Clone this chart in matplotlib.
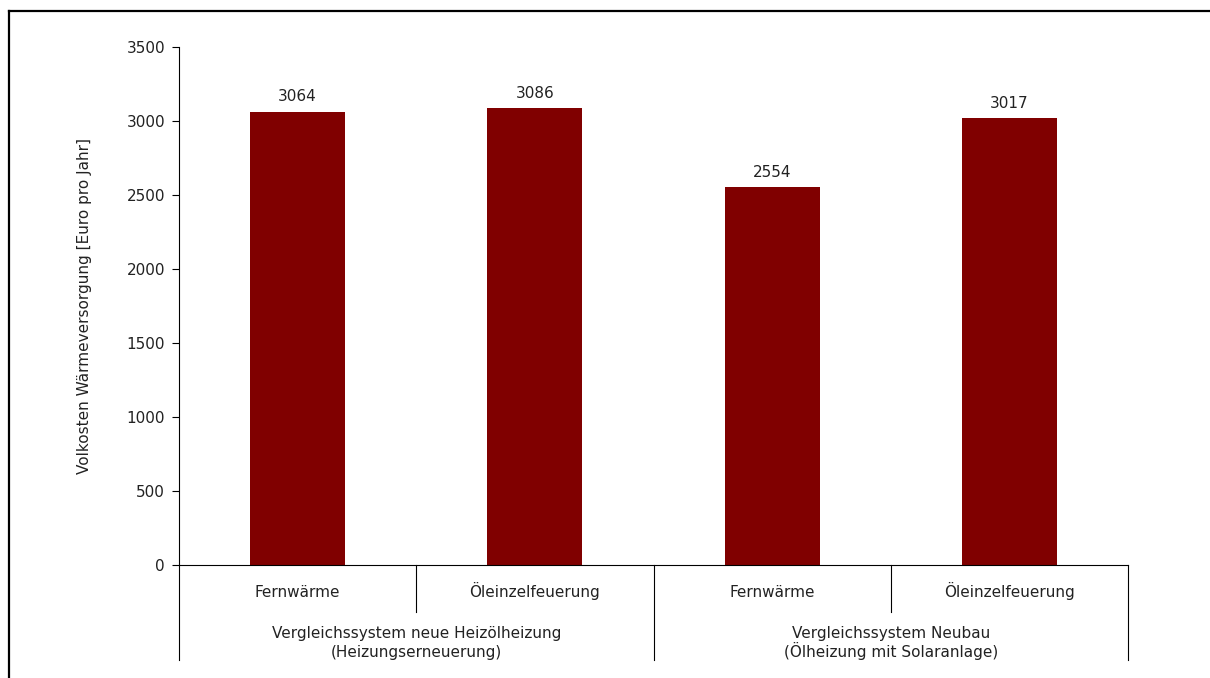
import matplotlib.pyplot as plt
from matplotlib.lines import Line2D

# データ
categories = ['Fernwärme', 'Öleinzelfeuerung', 'Fernwärme', 'Öleinzelfeuerung']
groups = ['Vergleichssystem neue Heizölheizung\n(Heizungserneuerung)',
          'Vergleichssystem Neubau\n(Ölheizung mit Solaranlage)']
values = [3064, 3086, 2554, 3017]
y_ticks = [0, 500, 1000, 1500, 2000, 2500, 3000, 3500]

W, H = 1210, 678
plt.rcParams['font.family'] = ['DejaVu Sans']
fs = 11
tc = '#222222'
fig = plt.figure(figsize=(W / 100, H / 100), dpi=100)

# 軸の位置 (ピクセル基準)
left, right, top, bottom = 179, 1128, 47, 565
ax = fig.add_axes([left / W, 1 - bottom / H, (right - left) / W, (bottom - top) / H])

x = list(range(len(categories)))
ax.bar(x, values, width=0.4, color='#800000')
for xi, v in zip(x, values):
    ax.annotate(str(v), (xi, v), xytext=(0, 7.5), textcoords='offset points',
                ha='center', va='baseline', fontsize=fs, color=tc)

ax.set_xlim(-0.5, len(categories) - 0.5)
ax.set_ylim(0, 3500)
ax.set_yticks(y_ticks)
ax.tick_params(axis='y', labelsize=fs, length=5, width=0.8, colors='black',
               labelcolor=tc, pad=5)
ax.set_xticks([])
for s in ['top', 'right']:
    ax.spines[s].set_visible(False)
ax.spines['left'].set_linewidth(0.8)
ax.spines['bottom'].set_linewidth(0.8)
ax.set_ylabel('Volkosten Wärmeversorgung [Euro pro Jahr]', fontsize=fs, color=tc)
ax.yaxis.set_label_coords((92 - left) / (right - left), 0.5)

# 多段カテゴリ軸
tr = ax.get_xaxis_transform()
def ypix(p):
    return -(p - bottom) / (bottom - top)

for b in [-0.5, 1.5, 3.5]:
    ax.add_line(Line2D([b, b], [0, ypix(660)], transform=tr, color='black',
                       lw=0.8, clip_on=False))
for b in [0.5, 2.5]:
    ax.add_line(Line2D([b, b], [0, ypix(612)], transform=tr, color='black',
                       lw=0.8, clip_on=False))
for xi, c in zip(x, categories):
    ax.text(xi, ypix(597), c, transform=tr, ha='center', va='baseline',
            fontsize=fs, color=tc)
for gi, g in enumerate(groups):
    line1, line2 = g.split('\n')
    ax.text(0.5 + 2 * gi, ypix(638), line1, transform=tr, ha='center',
            va='baseline', fontsize=fs, color=tc)
    ax.text(0.5 + 2 * gi, ypix(657), line2, transform=tr, ha='center',
            va='baseline', fontsize=fs, color=tc)

# 外枠 (上と左のみ見える)
fig.add_artist(Line2D([9 / W, 1], [1 - 11 / H, 1 - 11 / H], color='black', lw=1.6))
fig.add_artist(Line2D([9 / W, 9 / W], [0, 1 - 11 / H], color='black', lw=1.6))

fig.savefig('out.png', dpi=100)
